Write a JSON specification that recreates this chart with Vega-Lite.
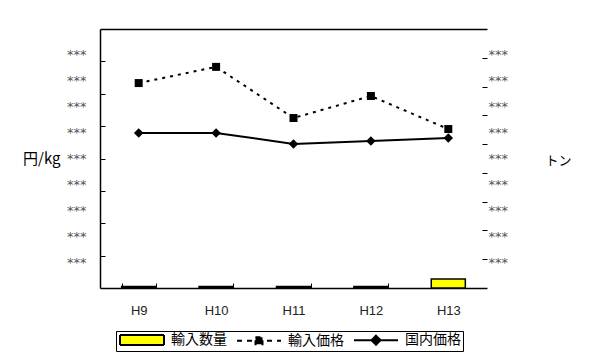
{
  "$schema": "https://vega.github.io/schema/vega-lite/v6.json",
  "width": 387,
  "height": 259,
  "autosize": "none",
  "padding": {"left": 100, "top": 29, "right": 106, "bottom": 76},
  "background": "white",
  "config": {"view": {"stroke": null}, "axis": {"grid": false}},
  "data": {
    "values": [
      {"year": "H9", "series": "輸入数量", "value": 50},
      {"year": "H10", "series": "輸入数量", "value": 50},
      {"year": "H11", "series": "輸入数量", "value": 50},
      {"year": "H12", "series": "輸入数量", "value": 50},
      {"year": "H13", "series": "輸入数量", "value": 310},
      {"year": "H9", "series": "輸入価格", "value": 633},
      {"year": "H10", "series": "輸入価格", "value": 683},
      {"year": "H11", "series": "輸入価格", "value": 525},
      {"year": "H12", "series": "輸入価格", "value": 593},
      {"year": "H13", "series": "輸入価格", "value": 491},
      {"year": "H9", "series": "国内価格", "value": 479},
      {"year": "H10", "series": "国内価格", "value": 479},
      {"year": "H11", "series": "国内価格", "value": 445},
      {"year": "H12", "series": "国内価格", "value": 454},
      {"year": "H13", "series": "国内価格", "value": 463}
    ]
  },
  "layer": [
    {
      "transform": [{"filter": "datum.series === '輸入数量'"}],
      "mark": {"type": "bar", "stroke": "#000", "strokeWidth": 1.5},
      "encoding": {
        "x": {
          "field": "year", "type": "ordinal", "sort": ["H9", "H10", "H11", "H12", "H13"],
          "scale": {"paddingInner": 0.56, "paddingOuter": 0.28},
          "axis": {
            "orient": "bottom", "title": null, "tickBand": "extent", "tickSize": -5,
            "tickColor": "#000", "tickWidth": 1, "domainColor": "#000", "domainWidth": 1.5,
            "labelAngle": 0, "labelFont": "Liberation Sans", "labelFontSize": 13,
            "labelColor": "#222", "labelPadding": 21
          }
        },
        "y": {
          "field": "value", "type": "quantitative",
          "scale": {"domain": [0, 9000], "nice": false},
          "axis": {
            "orient": "right", "title": "トン", "titleAngle": 0, "titleAlign": "left",
            "titleBaseline": "middle", "titleX": 58, "titleY": 131, "titleFont": "Noto Sans CJK JP",
            "titleFontSize": 13, "titleFontWeight": "normal", "titleColor": "#000",
            "domain": false,
            "values": [900, 1000, 1800, 2000, 2700, 3000, 3600, 4000, 4500, 5000, 5400, 6000, 6300, 7000, 7200, 8000, 8100],
            "labelExpr": "datum.value % 900 === 0 ? '***' : ''",
            "tickOpacity": {"condition": {"test": "datum.value % 1000 !== 0", "value": 0}, "value": 1},
            "tickSize": -5, "tickColor": "#000", "tickWidth": 1,
            "labelPadding": 6, "labelFont": "DejaVu Sans", "labelFontSize": 13,
            "labelColor": "#555", "labelBaseline": "middle", "labelOverlap": false, "labelFlush": false
          }
        },
        "color": {
          "field": "series", "type": "nominal",
          "scale": {"domain": ["輸入数量", "輸入価格", "国内価格"], "range": ["#ffff00", "#000000", "#000000"]},
          "legend": {
            "orient": "none", "legendX": 16, "legendY": 302, "direction": "horizontal", "columns": 3,
            "title": null, "strokeColor": "#000", "fillColor": "#fff", "padding": 2,
            "labelFont": "Noto Sans CJK JP", "labelFontSize": 14, "labelColor": "#000",
            "labelOffset": 39, "columnPadding": 6, "symbolSize": 100, "symbolStrokeWidth": 2, "labelLimit": 0,
            "symbolStrokeColor": "#000", "symbolOpacity": 1,
            "symbolType": {"expr": "datum.value === '輸入数量' ? 'M-1,-1H7.8V1H-1Z' : (datum.value === '輸入価格' ? 'M-1,0H7.8M2.7,-0.7H4.1V0.7H2.7Z' : 'M-1,0H7.8M3.4,-0.9L4.3,0L3.4,0.9L2.5,0Z')"},
            "symbolDash": {"expr": "datum.value === '輸入価格' ? [5, 5] : [1, 0]"}
          }
        }
      }
    },
    {
      "transform": [{"filter": "datum.series !== '輸入数量'"}],
      "encoding": {
        "x": {
          "field": "year", "type": "ordinal", "sort": ["H9", "H10", "H11", "H12", "H13"],
          "scale": {"type": "point", "padding": 0.5},
          "axis": {"orient": "top", "title": null, "labels": false, "ticks": false, "domainColor": "#000", "domainWidth": 1.5}
        },
        "y": {
          "field": "value", "type": "quantitative",
          "scale": {"domain": [0, 800], "nice": false},
          "axis": {
            "orient": "left", "title": "円/kg", "titleAngle": 0, "titleAlign": "right",
            "titleBaseline": "middle", "titleX": -40, "titleY": 129.5, "titleFont": "Noto Sans CJK JP",
            "titleFontSize": 15, "titleFontWeight": "normal", "titleColor": "#000",
            "domainColor": "#000", "domainWidth": 1.5,
            "values": [80, 100, 160, 200, 240, 300, 320, 400, 480, 500, 560, 600, 640, 700, 720],
            "labelExpr": "datum.value % 80 === 0 ? '***' : ''",
            "tickOpacity": {"condition": {"test": "datum.value % 100 !== 0", "value": 0}, "value": 1},
            "tickSize": -5, "tickColor": "#000", "tickWidth": 1,
            "labelPadding": 19, "labelFont": "DejaVu Sans", "labelFontSize": 13,
            "labelColor": "#555", "labelBaseline": "middle", "labelOverlap": false, "labelFlush": false
          }
        },
        "detail": {"field": "series", "type": "nominal"}
      },
      "layer": [
        {"transform": [{"filter": "datum.series === '輸入価格'"}], "mark": {"type": "line", "color": "#000", "strokeWidth": 2, "strokeDash": [3, 5]}},
        {"transform": [{"filter": "datum.series === '輸入価格'"}], "mark": {"type": "point", "color": "#000", "shape": "square", "filled": true, "size": 64, "opacity": 1}},
        {"transform": [{"filter": "datum.series === '国内価格'"}], "mark": {"type": "line", "color": "#000", "strokeWidth": 2}},
        {"transform": [{"filter": "datum.series === '国内価格'"}], "mark": {"type": "point", "color": "#000", "shape": "diamond", "filled": true, "size": 90, "opacity": 1}}
      ]
    }
  ],
  "resolve": {"scale": {"x": "independent", "y": "independent"}}
}
